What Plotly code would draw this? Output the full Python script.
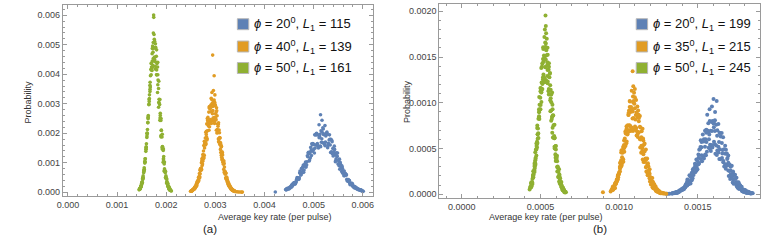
import plotly.graph_objects as go

# ---------------- data (key rates and probabilities in units of 1e-6) ----------------
UNIT = 1e-6

# Panel (a): phi = 20, L1 = 115
a_blue_pts = [
    (4430, 92), (4445, 87), (4460, 96), (4475, 136), (4490, 140), (4505, 130), (4520, 143), (4535, 192),
    (4550, 241), (4565, 218), (4580, 242), (4595, 311), (4610, 332), (4625, 288), (4640, 326), (4655, 443),
    (4670, 450), (4685, 467), (4700, 437), (4715, 654), (4730, 669), (4745, 590), (4760, 659), (4775, 851),
    (4790, 925), (4805, 755), (4820, 893), (4835, 1024), (4850, 909), (4865, 1035), (4880, 1203), (4895, 1358),
    (4910, 1060), (4925, 1329), (4940, 1521), (4955, 1242), (4970, 1391), (4985, 1649), (5000, 1623), (5015, 1332),
    (5030, 1501), (5045, 1941), (5060, 2002), (5075, 1652), (5090, 1556), (5105, 1938), (5120, 1888), (5135, 1570),
    (5150, 2084), (5165, 1810), (5180, 1683), (5195, 2146), (5210, 1973), (5225, 1625), (5240, 1705), (5255, 1992),
    (5270, 2038), (5285, 1511), (5300, 1657), (5315, 1772), (5330, 1797), (5345, 1348), (5360, 1374), (5375, 1710),
    (5390, 1479), (5405, 1298), (5420, 1562), (5435, 1264), (5450, 1072), (5465, 1334), (5480, 1214), (5495, 959),
    (5510, 960), (5525, 1121), (5540, 1011), (5555, 815), (5570, 699), (5585, 813), (5600, 729), (5615, 563),
    (5630, 559), (5645, 643), (5660, 588), (5675, 438), (5690, 392), (5705, 430), (5720, 407), (5735, 298),
    (5750, 292), (5765, 314), (5780, 265), (5795, 206), (5810, 179), (5825, 205), (5840, 186), (5855, 140),
    (5870, 122), (5885, 129), (5900, 111), (5915, 85), (5930, 76), (5945, 80), (5960, 70), (5975, 52),
    (5990, 45), (6010, 30), (4220, 8), (5140, 2630), (5170, 2440), (5110, 2290), (5230, 2260),
]
a_blue_more = [
    (4437, 80), (4452, 121), (4467, 119), (4482, 118), (4497, 112), (4512, 168), (4527, 178), (4542, 171),
    (4557, 187), (4572, 275), (4587, 295), (4602, 322), (4617, 270), (4632, 318), (4647, 385), (4662, 494),
    (4677, 485), (4692, 478), (4707, 489), (4722, 717), (4737, 590), (4752, 806), (4767, 792), (4782, 716),
    (4797, 675), (4812, 920), (4827, 975), (4842, 847), (4857, 929), (4872, 1237), (4887, 1328), (4902, 1309),
    (4917, 1097), (4932, 1168), (4947, 1412), (4962, 1640), (4977, 1610), (4992, 1436), (5007, 1467), (5022, 1946),
    (5037, 1600), (5052, 1985), (5067, 1950), (5082, 1591), (5097, 1502), (5112, 1851), (5127, 1961), (5142, 1545),
    (5157, 1694), (5172, 2038), (5187, 2188), (5202, 1954), (5217, 1638), (5232, 1576), (5247, 1906), (5262, 2003),
    (5277, 1967), (5292, 1588), (5307, 1622), (5322, 1946), (5337, 1600), (5352, 1795), (5367, 1764), (5382, 1303),
    (5397, 1230), (5412, 1372), (5427, 1453), (5442, 1035), (5457, 1135), (5472, 1237), (5487, 1328), (5502, 1072),
    (5517, 898), (5532, 783), (5547, 947), (5562, 900), (5577, 884), (5592, 645), (5607, 659), (5622, 717),
    (5637, 590), (5652, 598), (5667, 588), (5682, 392), (5697, 370), (5712, 374), (5727, 396), (5742, 255),
    (5757, 279), (5772, 275), (5787, 295), (5802, 216), (5817, 181), (5832, 143), (5847, 173), (5862, 149),
    (5877, 146), (5892, 97), (5907, 99), (5922, 97), (5937, 80), (5952, 74), (5967, 72), (5982, 44),
]
# Panel (a): phi = 40, L1 = 139
a_orange_pts = [
    (2495, 33), (2503, 33), (2510, 37), (2518, 52), (2525, 64), (2533, 55), (2540, 69), (2548, 94),
    (2555, 98), (2563, 106), (2570, 105), (2578, 161), (2585, 174), (2593, 166), (2600, 183), (2608, 244),
    (2615, 289), (2623, 242), (2630, 301), (2638, 357), (2645, 408), (2653, 376), (2660, 404), (2668, 536),
    (2675, 632), (2683, 522), (2690, 628), (2698, 805), (2705, 801), (2713, 819), (2720, 774), (2728, 1127),
    (2735, 1155), (2743, 1048), (2750, 1108), (2758, 1400), (2765, 1582), (2773, 1258), (2780, 1498), (2788, 1679),
    (2795, 1836), (2803, 1606), (2810, 1644), (2818, 2067), (2825, 2317), (2833, 1816), (2840, 2082), (2848, 2537),
    (2855, 2408), (2863, 2332), (2870, 2100), (2878, 2906), (2885, 2842), (2893, 2446), (2900, 2463), (2908, 2954),
    (2915, 3183), (2923, 2406), (2930, 2730), (2938, 2905), (2945, 3024), (2953, 2514), (2960, 2452), (2968, 2931),
    (2975, 3128), (2983, 2331), (2990, 2543), (2998, 2946), (3005, 2662), (3013, 2451), (3020, 2100), (3028, 2765),
    (3035, 2595), (3043, 2106), (3050, 2017), (3058, 2302), (3065, 2358), (3073, 1697), (3080, 1831), (3088, 1855),
    (3095, 1836), (3103, 1453), (3110, 1346), (3118, 1533), (3125, 1555), (3133, 1104), (3140, 1144), (3148, 1262),
    (3155, 1082), (3163, 951), (3170, 774), (3178, 971), (3185, 856), (3193, 669), (3200, 608), (3208, 662),
    (3215, 643), (3223, 440), (3230, 450), (3238, 435), (3245, 408), (3253, 309), (3260, 271), (3268, 295),
    (3275, 284), (3283, 193), (3290, 189), (3298, 199), (3305, 162), (3313, 136), (3320, 105), (3328, 125),
    (3335, 105), (3343, 78), (3350, 67), (3358, 70), (3365, 65), (3373, 43), (3380, 41), (3388, 36),
    (3395, 33), (3420, 18), (3445, 14), (3470, 10), (3500, 8), (3530, 5), (3550, 4),
    (2945, 4650), (2975, 3950), (2960, 3450), (2930, 3380), (2990, 3300),
]
a_orange_more = [
    (2514, 44), (2521, 52), (2529, 49), (2536, 83), (2544, 81), (2551, 93), (2559, 91), (2566, 135),
    (2574, 143), (2581, 135), (2589, 143), (2596, 211), (2604, 203), (2611, 222), (2619, 212), (2626, 348),
    (2634, 333), (2641, 359), (2649, 374), (2656, 500), (2664, 482), (2671, 510), (2679, 482), (2686, 754),
    (2694, 734), (2701, 762), (2709, 747), (2716, 1001), (2724, 1056), (2731, 903), (2739, 956), (2746, 1276),
    (2754, 1228), (2761, 1214), (2769, 1159), (2776, 1728), (2784, 1651), (2791, 1615), (2799, 1683), (2806, 2036),
    (2814, 1961), (2821, 1870), (2829, 1769), (2836, 2499), (2844, 2433), (2851, 2291), (2859, 2244), (2866, 2717),
    (2874, 2865), (2881, 2222), (2889, 2351), (2896, 2838), (2904, 2731), (2911, 2442), (2919, 2332), (2926, 3148),
    (2934, 3009), (2941, 2660), (2949, 2772), (2956, 3037), (2964, 2925), (2971, 2524), (2979, 2387), (2986, 3052),
    (2994, 2971), (3001, 2532), (3009, 2481), (3016, 2717), (3024, 2865), (3031, 2011), (3039, 2128), (3046, 2324),
    (3054, 2236), (3061, 1809), (3069, 1728), (3076, 2111), (3084, 2017), (3091, 1615), (3099, 1683), (3106, 1667),
    (3114, 1605), (3121, 1255), (3129, 1187), (3136, 1373), (3144, 1336), (3151, 1029), (3159, 1008), (3166, 1001),
    (3174, 1056), (3181, 669), (3189, 708), (3196, 701), (3204, 674), (3211, 493), (3219, 471), (3226, 519),
    (3234, 496), (3241, 359), (3249, 374), (3256, 336), (3264, 323), (3271, 229), (3279, 217), (3286, 227),
    (3294, 221), (3301, 154), (3309, 151), (3316, 135), (3324, 143), (3331, 82), (3339, 86), (3346, 77),
    (3354, 74), (3361, 50), (3369, 48), (3376, 47), (3384, 45), (3391, 29),
]
# Panel (a): phi = 50, L1 = 161
a_green_pts = [
    (1462, 103), (1447, 80), (1459, 114), (1469, 120), (1480, 170), (1466, 132), (1483, 198), (1488, 198),
    (1507, 296), (1492, 235), (1507, 331), (1513, 336), (1526, 461), (1506, 349), (1521, 475), (1527, 492),
    (1541, 661), (1530, 553), (1545, 732), (1554, 775), (1567, 1017), (1552, 826), (1564, 1031), (1574, 1136),
    (1585, 1387), (1571, 1135), (1588, 1466), (1593, 1534), (1612, 1980), (1597, 1646), (1612, 2002), (1618, 2125),
    (1631, 2525), (1611, 2003), (1626, 2359), (1632, 2554), (1646, 2972), (1635, 2602), (1650, 2978), (1659, 3303),
    (1672, 3729), (1657, 3177), (1669, 3420), (1679, 3948), (1690, 4168), (1676, 3572), (1693, 3980), (1698, 4368),
    (1717, 4873), (1702, 4245), (1717, 4451), (1723, 4961), (1736, 5080), (1716, 4229), (1731, 4298), (1737, 4882),
    (1751, 4896), (1764, 4501), (1755, 4442), (1764, 5119), (1780, 5033), (1786, 4415), (1777, 4176), (1785, 4916),
    (1799, 4607), (1807, 3985), (1803, 3980), (1813, 4368), (1828, 4409), (1834, 3805), (1829, 3645), (1829, 3984),
    (1849, 3764), (1850, 3043), (1845, 2882), (1855, 3150), (1866, 2972), (1879, 2602), (1871, 2438), (1879, 2678),
    (1894, 2502), (1901, 2091), (1892, 1878), (1900, 2106), (1914, 1872), (1922, 1546), (1918, 1466), (1928, 1534),
    (1943, 1467), (1949, 1209), (1944, 1099), (1944, 1146), (1964, 1026), (1965, 791), (1960, 708), (1970, 740),
    (1981, 661), (1994, 553), (1986, 491), (1994, 516), (2009, 457), (2016, 365), (2007, 310), (2015, 332),
    (2029, 280), (2037, 221), (2033, 198), (2043, 198), (2058, 179), (2064, 141), (2059, 121), (2061, 118),
    (2079, 104), (2080, 76), (2075, 65), (2085, 64), (2096, 53), (2105, 40),
    (1744, 6010), (1746, 5930), (1738, 5400), (1752, 5350),
]
a_green_more = [
    (1459, 100), (1461, 116), (1485, 178), (1485, 207), (1503, 285), (1501, 307), (1521, 431), (1526, 502),
    (1547, 700), (1549, 756), (1564, 988), (1566, 1054), (1590, 1454), (1590, 1529), (1608, 1908), (1606, 1858),
    (1626, 2361), (1631, 2490), (1652, 3147), (1654, 3074), (1669, 3624), (1671, 3495), (1695, 4369), (1695, 4149),
    (1713, 4696), (1711, 4130), (1731, 4751), (1736, 4537), (1757, 5184), (1760, 4585), (1776, 4892), (1779, 4268),
    (1804, 4829), (1805, 4149), (1824, 4248), (1823, 3382), (1844, 3520), (1850, 3042), (1872, 3147), (1875, 2516),
    (1891, 2432), (1894, 1920), (1919, 1962), (1920, 1529), (1939, 1414), (1938, 1020), (1959, 960), (1965, 748),
    (1987, 700), (1990, 507), (2006, 444), (2009, 317), (2034, 293), (2035, 207), (2054, 173), (2053, 113),
    (2074, 97), (2080, 68),
]

# Panel (b): phi = 20, L1 = 199
b_blue_pts = [
    (1339, 9), (1335, 7), (1338, 8), (1354, 15), (1354, 14), (1354, 13), (1357, 12), (1369, 23),
    (1376, 29), (1366, 19), (1376, 26), (1384, 39), (1391, 42), (1385, 39), (1388, 34), (1406, 66),
    (1403, 59), (1407, 50), (1408, 60), (1420, 84), (1424, 108), (1420, 79), (1423, 84), (1439, 148),
    (1439, 140), (1439, 122), (1442, 109), (1454, 191), (1461, 231), (1451, 143), (1461, 191), (1469, 273),
    (1476, 283), (1470, 245), (1473, 209), (1491, 379), (1488, 324), (1492, 258), (1493, 297), (1505, 399),
    (1509, 485), (1505, 335), (1508, 342), (1524, 571), (1524, 512), (1524, 425), (1527, 361), (1539, 601),
    (1546, 694), (1536, 406), (1546, 519), (1554, 705), (1561, 697), (1555, 572), (1558, 465), (1576, 800),
    (1573, 652), (1577, 493), (1578, 541), (1590, 690), (1594, 800), (1590, 524), (1593, 510), (1609, 809),
    (1609, 690), (1609, 546), (1612, 441), (1624, 698), (1631, 768), (1621, 428), (1631, 519), (1639, 670),
    (1646, 630), (1640, 492), (1643, 381), (1661, 623), (1658, 484), (1662, 348), (1663, 363), (1675, 441),
    (1679, 485), (1675, 303), (1678, 279), (1694, 424), (1694, 343), (1694, 259), (1697, 198), (1709, 299),
    (1716, 312), (1706, 166), (1716, 191), (1724, 235), (1731, 210), (1725, 157), (1728, 115), (1746, 179),
    (1743, 132), (1747, 90), (1748, 89), (1760, 104), (1764, 108), (1760, 64), (1763, 56), (1779, 82),
    (1779, 63), (1779, 45), (1782, 32), (1794, 48), (1801, 47), (1791, 24), (1801, 26), (1809, 31),
    (1816, 26), (1810, 19), (1813, 13), (1831, 19), (1828, 13), (1832, 10), (1833, 9), (1841, 9),
    (1849, 9), (1300, 5), (1310, 6), (1320, 4),
    (1600, 1040), (1620, 1018), (1590, 960), (1575, 930), (1610, 900), (1560, 870),
]
b_blue_more = [
    (1348, 9), (1347, 14), (1349, 17), (1362, 13), (1369, 13), (1362, 25), (1368, 24), (1377, 20),
    (1384, 33), (1380, 33), (1382, 26), (1397, 53), (1398, 50), (1399, 42), (1401, 55), (1412, 70),
    (1419, 87), (1413, 58), (1420, 72), (1430, 116), (1433, 95), (1432, 135), (1434, 161), (1447, 120),
    (1454, 118), (1447, 208), (1453, 192), (1462, 152), (1469, 248), (1465, 233), (1467, 173), (1482, 333),
    (1483, 308), (1484, 241), (1486, 300), (1497, 364), (1504, 433), (1498, 273), (1505, 326), (1515, 494),
    (1518, 384), (1517, 517), (1519, 591), (1532, 415), (1539, 391), (1532, 653), (1538, 577), (1547, 434),
    (1554, 671), (1550, 601), (1552, 426), (1567, 777), (1568, 685), (1569, 508), (1571, 602), (1582, 695),
    (1589, 790), (1583, 473), (1590, 538), (1600, 773), (1603, 573), (1602, 733), (1604, 796), (1617, 533),
    (1624, 477), (1617, 759), (1623, 638), (1632, 457), (1639, 671), (1635, 571), (1637, 384), (1652, 668),
    (1653, 561), (1654, 396), (1656, 446), (1667, 491), (1674, 529), (1668, 302), (1675, 326), (1685, 446),
    (1688, 314), (1687, 384), (1689, 396), (1702, 253), (1709, 215), (1702, 325), (1708, 259), (1717, 177),
    (1724, 248), (1720, 201), (1722, 128), (1737, 213), (1738, 169), (1739, 114), (1741, 122), (1752, 128),
    (1759, 130), (1753, 71), (1760, 72), (1770, 94), (1773, 63), (1772, 74), (1774, 72), (1787, 44),
    (1794, 35), (1787, 52), (1793, 39), (1802, 25), (1809, 33), (1805, 26), (1807, 16), (1822, 26),
    (1823, 19), (1824, 12), (1826, 12), (1837, 11), (1844, 12), (1838, 8),
]
# Panel (b): phi = 35, L1 = 215
b_orange_pts = [
    (955, 46), (946, 30), (952, 42), (959, 53), (965, 66), (958, 50), (965, 62), (968, 78),
    (980, 118), (965, 71), (977, 112), (978, 125), (988, 163), (977, 126), (984, 143), (993, 192),
    (995, 214), (992, 160), (998, 218), (1001, 241), (1009, 337), (1000, 231), (1006, 281), (1013, 370),
    (1019, 404), (1012, 322), (1019, 343), (1022, 452), (1034, 586), (1019, 369), (1031, 502), (1032, 588),
    (1042, 663), (1031, 539), (1038, 524), (1047, 742), (1049, 710), (1046, 558), (1052, 654), (1055, 755),
    (1063, 916), (1054, 658), (1060, 690), (1067, 953), (1073, 900), (1066, 753), (1073, 690), (1076, 954),
    (1088, 1069), (1073, 704), (1085, 827), (1092, 1018), (1097, 990), (1092, 834), (1093, 707), (1108, 1031),
    (1106, 866), (1109, 695), (1109, 723), (1118, 842), (1121, 916), (1118, 658), (1119, 625), (1132, 854),
    (1132, 737), (1131, 604), (1134, 511), (1143, 687), (1149, 716), (1140, 454), (1147, 502), (1154, 588),
    (1159, 542), (1154, 437), (1155, 352), (1170, 489), (1168, 389), (1171, 297), (1171, 294), (1180, 326),
    (1183, 337), (1180, 231), (1181, 208), (1194, 272), (1194, 223), (1193, 174), (1196, 139), (1205, 178),
    (1211, 176), (1202, 106), (1209, 112), (1216, 125), (1221, 110), (1216, 84), (1217, 64), (1232, 85),
    (1230, 64), (1233, 46), (1233, 44), (1242, 47), (1245, 46), (1242, 30), (1243, 26), (1256, 32),
    (1256, 25), (1255, 20), (1258, 14), (1267, 17), (1273, 16), (1264, 10), (1271, 10),
    (1280, 8), (1290, 7), (1300, 5), (1275, 12), (1285, 9), (897, 20),
    (1086, 1345), (1090, 1180), (1100, 1150), (1080, 1130), (1095, 1110),
]
b_orange_more = [
    (959, 45), (952, 49), (959, 75), (963, 50), (973, 65), (961, 83), (972, 103), (972, 74),
    (982, 136), (973, 111), (979, 114), (985, 160), (991, 190), (986, 138), (992, 202), (994, 206),
    (1005, 289), (994, 184), (1005, 252), (1006, 306), (1013, 304), (1006, 345), (1013, 457), (1017, 319),
    (1027, 356), (1015, 481), (1026, 509), (1026, 382), (1036, 609), (1027, 522), (1033, 464), (1039, 684),
    (1045, 697), (1040, 533), (1046, 668), (1048, 717), (1059, 867), (1048, 577), (1059, 683), (1060, 869),
    (1067, 747), (1060, 889), (1067, 1018), (1071, 744), (1081, 715), (1069, 1014), (1080, 929), (1080, 730),
    (1090, 1003), (1087, 904), (1088, 692), (1100, 1060), (1100, 940), (1101, 741), (1103, 816), (1111, 893),
    (1116, 958), (1111, 643), (1117, 683), (1124, 869), (1126, 676), (1125, 797), (1126, 834), (1136, 598),
    (1142, 530), (1136, 729), (1141, 622), (1147, 471), (1152, 609), (1149, 522), (1150, 379), (1162, 555),
    (1162, 468), (1163, 351), (1165, 367), (1173, 382), (1178, 389), (1173, 249), (1179, 252), (1186, 306),
    (1188, 225), (1187, 254), (1188, 252), (1198, 172), (1204, 144), (1198, 189), (1203, 153), (1209, 110),
    (1214, 136), (1211, 111), (1212, 77), (1224, 107), (1224, 85), (1225, 61), (1227, 60), (1235, 59),
    (1240, 58), (1235, 36), (1241, 34), (1248, 39), (1250, 28), (1249, 30), (1250, 28), (1260, 18),
    (1266, 15), (1260, 18), (1265, 13), (1270, 12),
]
# Panel (b): phi = 50, L1 = 245
b_green_pts = [
    (437, 72), (431, 52), (436, 73), (440, 82), (444, 108), (440, 86), (444, 111), (446, 125),
    (454, 184), (444, 126), (453, 188), (453, 198), (461, 259), (453, 210), (458, 253), (464, 300),
    (465, 349), (463, 280), (467, 371), (469, 388), (475, 528), (469, 398), (474, 490), (478, 574),
    (482, 655), (478, 549), (482, 607), (484, 718), (492, 911), (482, 652), (491, 845), (491, 928),
    (499, 1054), (491, 896), (496, 927), (502, 1151), (503, 1158), (501, 974), (505, 1114), (507, 1220),
    (513, 1432), (507, 1133), (512, 1204), (516, 1479), (520, 1455), (516, 1280), (520, 1222), (522, 1516),
    (530, 1659), (520, 1246), (529, 1392), (533, 1606), (537, 1573), (533, 1389), (535, 1250), (545, 1601),
    (543, 1414), (545, 1212), (546, 1231), (552, 1361), (554, 1432), (552, 1133), (553, 1090), (561, 1325),
    (562, 1192), (562, 1028), (563, 906), (569, 1091), (574, 1112), (568, 804), (573, 845), (577, 928),
    (581, 863), (577, 727), (579, 621), (589, 758), (587, 636), (589, 520), (590, 500), (596, 528),
    (598, 528), (596, 398), (597, 363), (605, 421), (606, 359), (606, 296), (607, 247), (613, 284),
    (618, 274), (612, 189), (617, 188), (621, 198), (625, 174), (621, 141), (623, 114), (633, 132),
    (631, 105), (633, 82), (634, 75), (640, 76), (642, 72), (640, 52), (641, 44), (649, 50),
    (650, 40), (650, 32), (651, 25), (657, 26), (662, 22), (656, 19),
    (532, 1955), (534, 1840), (528, 1800), (536, 1760), (525, 1720), (540, 1700),
]
b_green_more = [
    (440, 76), (436, 80), (441, 119), (443, 88), (449, 112), (442, 131), (449, 166), (448, 129),
    (456, 218), (453, 182), (455, 202), (454, 250), (462, 307), (462, 242), (467, 335), (462, 334),
    (467, 459), (468, 321), (474, 424), (471, 489), (478, 511), (474, 554), (479, 724), (481, 561),
    (487, 614), (480, 751), (487, 824), (486, 667), (494, 977), (491, 853), (493, 822), (492, 1063),
    (500, 1127), (500, 929), (505, 1112), (500, 1160), (505, 1381), (506, 1009), (512, 1151), (509, 1394),
    (516, 1258), (512, 1427), (517, 1608), (519, 1308), (525, 1236), (518, 1587), (525, 1501), (524, 1274),
    (532, 1610), (533, 1476), (531, 1227), (534, 1647), (539, 1520), (543, 1292), (545, 1358), (544, 1444),
    (546, 1525), (551, 1126), (553, 1151), (554, 1394), (557, 1138), (557, 1279), (559, 1317), (565, 1050),
    (568, 916), (565, 1141), (569, 1006), (572, 822), (576, 977), (577, 853), (575, 673), (578, 861),
    (583, 755), (587, 612), (589, 612), (588, 619), (590, 620), (595, 437), (597, 424), (598, 489),
    (601, 379), (601, 407), (603, 397), (609, 302), (612, 250), (609, 297), (613, 248), (616, 193),
    (620, 218), (621, 182), (619, 136), (622, 167), (627, 138), (631, 107), (633, 101), (632, 98),
    (634, 92), (639, 63), (641, 58), (642, 64), (645, 46), (645, 48), (647, 44), (653, 33),
    (656, 25), (653, 26),
]

a_labels = ["<i>ϕ</i> = 20<sup>0</sup>, <i>L</i><sub>1</sub> = 115",
            "<i>ϕ</i> = 40<sup>0</sup>, <i>L</i><sub>1</sub> = 139",
            "<i>ϕ</i> = 50<sup>0</sup>, <i>L</i><sub>1</sub> = 161"]
b_labels = ["<i>ϕ</i> = 20<sup>0</sup>, <i>L</i><sub>1</sub> = 199",
            "<i>ϕ</i> = 35<sup>0</sup>, <i>L</i><sub>1</sub> = 215",
            "<i>ϕ</i> = 50<sup>0</sup>, <i>L</i><sub>1</sub> = 245"]
colors = ["#5E81B5", "#E19C24", "#8FB032"]

# ---------------- figure ----------------
W, H = 768, 252
def fx(p):
    return p / W
def fy(p):
    return 1 - p / H

fig = go.Figure()
panels = [
    ([a_blue_pts + a_blue_more, a_orange_pts + a_orange_more, a_green_pts + a_green_more], "x", "y", 3.6),
    ([b_blue_pts + b_blue_more, b_orange_pts + b_orange_more, b_green_pts + b_green_more], "x2", "y2", 4.0),
]
for series, xa, ya, msize in panels:
    for pts, c in zip(series, colors):
        fig.add_trace(go.Scatter(
            x=[p[0] * UNIT for p in pts], y=[p[1] * UNIT for p in pts],
            mode="markers", xaxis=xa, yaxis=ya, showlegend=False, hoverinfo="skip",
            marker=dict(color=c, size=msize, line=dict(width=0)),
        ))

frame = "#9a9a9a"
tickfont = dict(family="Liberation Sans, Arial, sans-serif", size=9, color="#444444")
def axis(domain, rng, dtick, mdtick, fmt, anchor):
    return dict(domain=domain, range=rng, dtick=dtick, tick0=0, tickformat=fmt,
                showgrid=False, zeroline=False, showline=True, linecolor=frame, linewidth=1,
                mirror="ticks", ticks="inside", ticklen=4, tickcolor=frame, tickwidth=1,
                minor=dict(ticks="inside", ticklen=2, dtick=mdtick, tick0=0, tickcolor=frame, showgrid=False),
                tickfont=tickfont, anchor=anchor, fixedrange=True)

fig.update_layout(
    width=W, height=H, autosize=False,
    margin=dict(l=0, r=0, t=0, b=0),
    paper_bgcolor="white", plot_bgcolor="white",
    xaxis=axis([fx(57.3), fx(370)], [-0.000105, 0.0062], 0.001, 0.0002, ".3f", "y"),
    yaxis=axis([fy(196.7), fy(4.7)], [-0.000125, 0.00636], 0.001, 0.0002, ".3f", "x"),
    xaxis2=axis([fx(437.3), fx(760.7)], [-0.000143, 0.001894], 0.0005, 0.0001, ".4f", "y2"),
    yaxis2=axis([fy(199), fy(4)], [-0.000044, 0.00208], 0.0005, 0.0001, ".4f", "x2"),
)

textfont = dict(family="Liberation Sans, Arial, sans-serif", size=9, color="#333333")
ann = []
shapes = []
for cx, label in [(197, "(a)"), (609, "(b)")]:
    ann.append(dict(x=fx(cx), y=fy(238), xref="paper", yref="paper", text=label, showarrow=False,
                    font=dict(family="Liberation Sans, Arial, sans-serif", size=11.5, color="#222222")))
for cx in (212, 604):
    ann.append(dict(x=fx(cx), y=fy(224.5), xref="paper", yref="paper", text="Average key rate (per pulse)",
                    showarrow=False, font=textfont))
for px_ in (15, 404):
    ann.append(dict(x=fx(px_), y=fy(102), xref="paper", yref="paper", text="Probability", textangle=-90,
                    showarrow=False, font=textfont))

rows = [24.3, 46.7, 68.3]
for sx, labels in [(233.5, a_labels), (636, b_labels)]:
    for ry, lab, c in zip(rows, labels, colors):
        shapes.append(dict(type="rect", xref="paper", yref="paper",
                           x0=fx(sx), x1=fx(sx + 11.5), y0=fy(ry + 5.5), y1=fy(ry - 5.5),
                           fillcolor=c, line=dict(color="#b8b8b8", width=1)))
        ann.append(dict(x=fx(sx + 14.5), y=fy(ry), xref="paper", yref="paper", text=lab,
                        xanchor="left", yanchor="middle", showarrow=False,
                        font=dict(family="Liberation Sans, Arial, sans-serif", size=13, color="#111111")))

fig.update_layout(annotations=ann, shapes=shapes)
fig.write_html("out.html", config={"displayModeBar": False},
               post_script="document.body.style.margin='0';document.body.style.overflow='hidden';")
